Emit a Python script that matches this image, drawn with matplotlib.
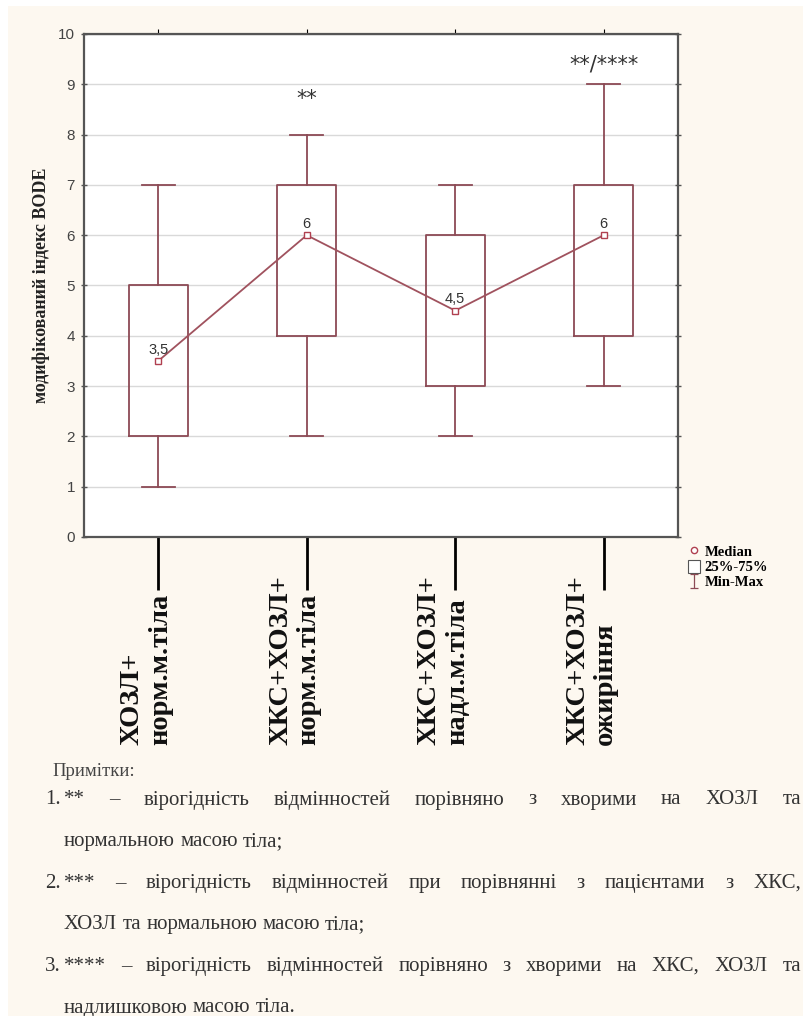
import numpy as np
import matplotlib.pyplot as plt
from matplotlib.path import Path
from matplotlib.lines import Line2D
from matplotlib.patches import Patch, Rectangle
from matplotlib.transforms import blended_transform_factory

# Data (min, q1, median, q3, max)
groups = ["ХОЗЛ+\nнорм.м.тіла", "ХКС+ХОЗЛ+\nнорм.м.тіла",
          "ХКС+ХОЗЛ+\nнадл.м.тіла", "ХКС+ХОЗЛ+\nожиріння"]
mins = [1, 2, 2, 3]
q1 = [2, 4, 3, 4]
medians = [3.5, 6, 4.5, 6]
q3 = [5, 7, 6, 7]
maxs = [7, 8, 7, 9]
median_labels = ["3,5", "6", "4,5", "6"]
signif = ["", "**", "", "**/****"]
signif_y = [0, 8.7, 0, 9.4]

note_title = "Примітки:"
note_nums = ["1.", "", "2.", "", "3.", ""]
note_lines = [
    "** – вірогідність відмінностей порівняно з хворими на ХОЗЛ та",
    "нормальною масою тіла;",
    "*** – вірогідність відмінностей при порівнянні з пацієнтами з ХКС,",
    "ХОЗЛ та нормальною масою тіла;",
    "**** – вірогідність відмінностей порівняно з хворими на ХКС, ХОЗЛ та",
    "надлишковою масою тіла.",
]
note_justify = [True, False, True, False, True, False]

W, H = 804, 1016
box_col = "#8c4a55"
cream = "#fdf8f0"

fig = plt.figure(figsize=(W / 100, H / 100), dpi=100, facecolor="white")
fig.patches.append(Rectangle((8 / W, 0), 1, 1 - 6 / H, transform=fig.transFigure,
                             facecolor=cream, edgecolor="none", zorder=-10))
ax = fig.add_axes([84 / W, 1 - 537 / H, (678 - 84) / W, (537 - 34) / H])
ax.set_facecolor("white")

pos = np.arange(len(groups)) + 0.5
stats = [dict(whislo=mins[i], q1=q1[i], med=medians[i], q3=q3[i], whishi=maxs[i],
              fliers=[]) for i in range(len(groups))]
ax.bxp(stats, positions=pos, widths=0.4, showfliers=False,
       boxprops=dict(color=box_col, lw=1.3),
       whiskerprops=dict(color=box_col, lw=1.3),
       capprops=dict(color=box_col, lw=1.3),
       medianprops=dict(lw=0), capwidths=0.22, manage_ticks=False, zorder=3)
ax.plot(pos, medians, color="#a0525e", lw=1.3, marker="s", ms=5,
        mfc="white", mec="#b04050", mew=1, zorder=4)
for x, m, t in zip(pos, medians, median_labels):
    ax.annotate(t, (x, m), xytext=(0, 3), textcoords="offset points",
                ha="center", va="bottom", fontsize=10.5, color="#333333",
                family="Liberation Sans", zorder=5)
for x, s, y in zip(pos, signif, signif_y):
    if s:
        ax.text(x, y, s, ha="center", va="center", fontsize=15,
                color="#333333", family="DejaVu Sans")

ax.set_xlim(0, len(groups))
ax.set_ylim(0, 10)
ax.set_yticks(range(0, 11))
ax.grid(axis="y", color="#d9d9d9", lw=1)
ax.set_axisbelow(True)
for s in ax.spines.values():
    s.set_color("#555555")
    s.set_linewidth(1.6)
ax.tick_params(axis="y", which="both", direction="inout", length=5, width=1,
               color="#555555", labelsize=11, labelcolor="#444444", pad=4,
               right=True)
for lab in ax.get_yticklabels():
    lab.set_family("Liberation Sans")
ax.set_xticks(pos)
ax.set_xticklabels([])
ax.tick_params(axis="x", direction="out", length=38, width=2, color="black",
               top=False)
ax.secondary_xaxis("top").set_xticks(pos, [])
ax.set_ylabel("модифікований індекс BODE", fontsize=13, fontweight="bold",
              family="Liberation Serif", color="#222222")
ax.yaxis.set_label_coords(-0.058, 0.5)

# rotated category labels under the axis
tr = blended_transform_factory(ax.transData, fig.transFigure)
for x, g in zip(pos, groups):
    ax.text(x - 0.08, 1 - 745 / H, g, transform=tr, rotation=90, ha="center",
            va="bottom", multialignment="left", fontsize=20.5,
            fontweight="bold", family="Liberation Serif", color="#111111",
            linespacing=1.15)

# legend
I_marker = Path([(-0.6, 1), (0.6, 1), (0, 1), (0, -1), (-0.6, -1), (0.6, -1)],
                [Path.MOVETO, Path.LINETO, Path.MOVETO, Path.LINETO,
                 Path.MOVETO, Path.LINETO])
handles = [Line2D([], [], ls="none", marker="o", ms=4.5, mfc="white",
                  mec="#b04050"),
           Patch(facecolor="white", edgecolor="#555555", lw=0.8),
           Line2D([], [], ls="none", marker=I_marker, ms=10, mec=box_col,
                  mew=0.9)]
ax.legend(handles, ["Median", "25%-75%", "Min-Max"], loc="upper left",
          bbox_to_anchor=(1.005, 0.0), frameon=False, handlelength=0.8,
          handleheight=1.0, handletextpad=0.3, borderpad=0, labelspacing=0.05,
          prop=dict(family="Liberation Serif", weight="bold", size=10.5))

# notes below the chart
fkw = dict(family="Liberation Serif", fontsize=15, color="#333333",
           va="center")
fig.text(52 / W, 1 - 772 / H, note_title,
         **{**fkw, "fontsize": 13.5, "color": "#444444"})
renderer = fig.canvas.get_renderer()
space = (fig.text(0, 0, "a a", **fkw).get_window_extent(renderer).width
         - fig.text(0, 0, "aa", **fkw).get_window_extent(renderer).width)
for t in fig.texts[-2:]:
    t.remove()
x_left, x_right = 64, 801
for k, (num, line, just) in enumerate(zip(note_nums, note_lines, note_justify)):
    y = 1 - (800 + k * 41.6) / H
    if num:
        fig.text(45 / W, y, num, **fkw)
    words = line.split()
    arts = [fig.text(0, y, w, **fkw) for w in words]
    widths = [a.get_window_extent(renderer).width for a in arts]
    gap = space
    if just:
        gap = (x_right - x_left - sum(widths)) / (len(words) - 1)
    x = x_left
    for a, w in zip(arts, widths):
        a.set_x(x / W)
        x += w + gap

fig.savefig("out.png", dpi=100, facecolor=fig.get_facecolor())
